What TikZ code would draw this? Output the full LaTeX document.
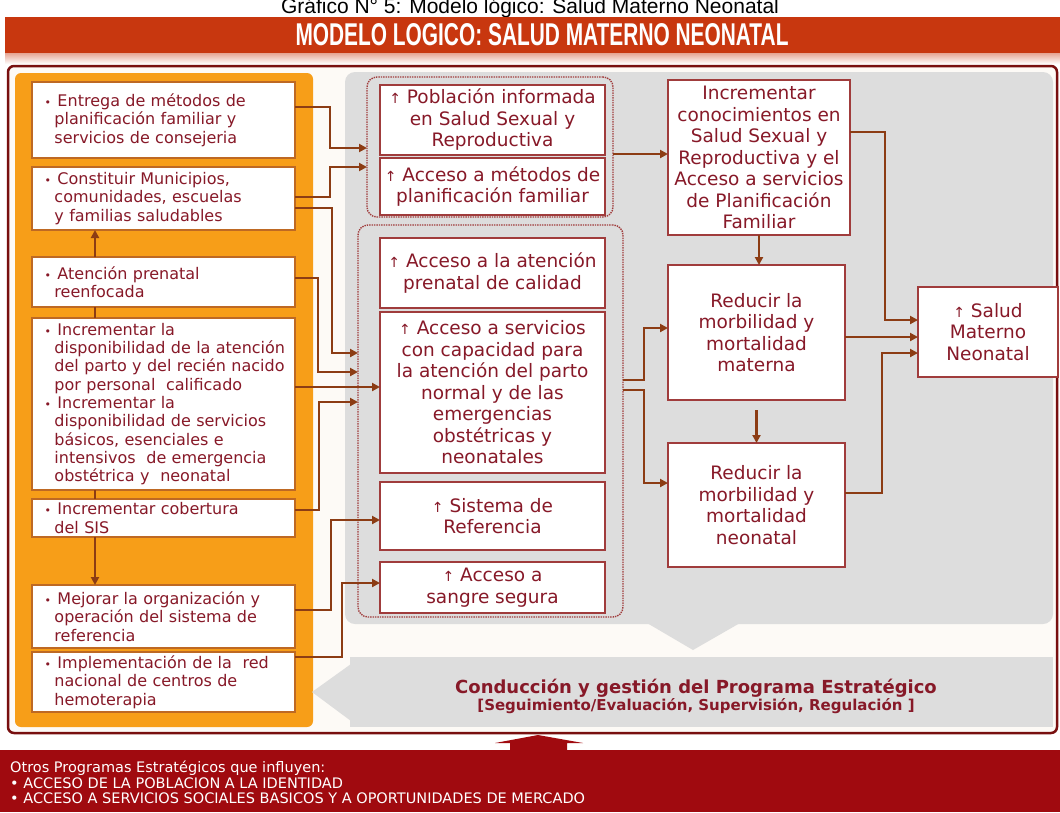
\documentclass[tikz,border=0pt]{standalone}
\usepackage{fontspec}
\usepackage{graphicx}
\setmainfont{DejaVu Sans}
\newfontfamily\arialf{Liberation Sans}
\usetikzlibrary{arrows.meta,calc}
\definecolor{banner}{RGB}{200,55,15}
\definecolor{orng}{RGB}{247,158,24}
\definecolor{lbord}{RGB}{190,105,35}
\definecolor{mbord}{RGB}{160,60,60}
\definecolor{txt}{RGB}{135,25,40}
\definecolor{conn}{RGB}{140,60,20}
\definecolor{grayA}{RGB}{221,221,221}
\definecolor{pbord}{RGB}{120,15,15}
\definecolor{dred}{RGB}{160,10,15}
\definecolor{panelbg}{RGB}{253,250,246}
\newcommand\fl[1]{\mbox{\hspace*{3pt}\makebox[13pt][l]{\fontsize{11}{11}\selectfont•}#1}}
\newcommand\cl[1]{\mbox{\hspace*{13pt}#1}}
\newcommand\ua{{\fontsize{14}{14}\selectfont↑}\ }
\newcommand\bx[7]{%
  \pgfmathsetmacro\bxcx{(#3+#5)/2}%
  \pgfmathsetmacro\bxcy{(#4+#6)/2}%
  \pgfmathsetmacro\bxw{#5-#3}%
  \pgfmathsetmacro\bxh{#6-#4}%
  \node[#2, minimum width=\bxw pt, minimum height=\bxh pt] (#1) at (\bxcx,\bxcy) {#7};}
\begin{document}
\begin{tikzpicture}[x=1pt,y=-1pt,
  lbox/.style={draw=lbord, line width=1.6pt, fill=white, text=txt, align=left,
    text width=244pt, inner xsep=9.5pt, inner ysep=0pt, outer sep=0pt,
    font=\fontsize{16}{18.3}\selectfont},
  mbox/.style={draw=mbord, line width=2.4pt, fill=white, text=txt, align=center,
    inner sep=0pt, outer sep=0pt, font=\fontsize{18.5}{21.5}\selectfont},
  rbox/.style={draw=mbord, line width=2.4pt, fill=white, text=txt, align=center,
    inner sep=0pt, outer sep=0pt, font=\fontsize{18.5}{21.5}\selectfont},
  grp/.style={draw=mbord, densely dotted, line width=1.4pt, rounded corners=10pt,
    inner sep=0pt, outer sep=0pt},
  wire/.style={draw=conn, line width=2.6pt, -{Triangle[length=8pt,width=8pt]}},
  wiren/.style={draw=conn, line width=2.6pt}]
\useasboundingbox (0,0) rectangle (1060,812);
\clip (0,0) rectangle (1060,812);
\fill[white] (0,0) rectangle (1060,812);

% title (cut at the top edge, as in the reference)
\node[font=\arialf\fontsize{21}{21}\selectfont, anchor=base, inner sep=0pt] (ttl) at (530,13)
  {Gráfico N° 5: Modelo lógico: Salud Materno Neonatal};

% banner
\fill[banner] (5,17) rectangle (1060,53);
\shade[top color=banner!45, bottom color=white] (5,53) rectangle (1060,64);
\node[text=white, inner sep=0pt, font=\arialf\bfseries] (ban) at (542,35)
  {\resizebox{493pt}{22pt}{MODELO LOGICO: SALUD MATERNO NEONATAL}};

% panel
\draw[pbord, line width=2.5pt, fill=panelbg, rounded corners=6pt] (8,66) rectangle (1057,733);
\fill[orng, rounded corners=6pt] (15,73) rectangle (313,727);
\fill[grayA, rounded corners=10pt] (345,72) rectangle (1053,624);
\fill[grayA] (647,623) -- (740,623) -- (693,650) -- cycle;
\fill[grayA] (350,657) rectangle (1053,727);
\fill[grayA] (351,664) -- (312,692) -- (351,721) -- cycle;
\node[text=txt, align=center, inner sep=0pt] (cond) at (696,696)
  {{\bfseries\fontsize{18}{20}\selectfont Conducción y gestión del Programa Estratégico}\\[0pt]
   {\bfseries\fontsize{15}{17}\selectfont [Seguimiento/Evaluación, Supervisión, Regulación ]}};

% bottom block
\fill[dred] (0,750) rectangle (1060,812);
\fill[dred] (510,751) -- (510,743) -- (495,743) -- (538,735) -- (583,743) -- (567,743) -- (567,751) -- cycle;
\node[anchor=north west, text=white, align=left, inner sep=0pt,
  font=\fontsize{14.5}{15.5}\selectfont] (otros) at (10,761)
  {Otros Programas Estratégicos que influyen:\\
   • ACCESO DE LA POBLACION A LA IDENTIDAD\\
   • ACCESO A SERVICIOS SOCIALES BASICOS Y A OPORTUNIDADES DE MERCADO};

% groups
\bx{g1}{grp}{367}{77}{613}{217}{}
\bx{g2}{grp}{358}{225}{623}{617}{}

% left boxes
\bx{b1}{lbox}{32}{82}{295}{158}{\fl{Entrega de métodos de}\\\cl{planificación familiar y}\\\cl{servicios de consejeria}}
\bx{b2}{lbox}{32}{167}{295}{230}{\fl{Constituir Municipios,}\\\cl{comunidades, escuelas}\\\cl{y familias saludables}}
\bx{b3}{lbox}{32}{257}{295}{307}{\fl{Atención prenatal}\\\cl{reenfocada}}
\bx{b4}{lbox}{32}{318}{295}{490}{\fl{Incrementar la}\\\cl{disponibilidad de la atención}\\\cl{del parto y del recién nacido}\\\cl{por personal\ \ calificado}\\\fl{Incrementar la}\\\cl{disponibilidad de servicios}\\\cl{básicos, esenciales e}\\\cl{intensivos\ \ de emergencia}\\\cl{obstétrica y\ \ neonatal}}
\bx{b5}{lbox}{32}{499}{295}{537}{\fl{Incrementar cobertura}\\\cl{del SIS}}
\bx{b6}{lbox}{32}{585}{295}{648}{\fl{Mejorar la organización y}\\\cl{operación del sistema de}\\\cl{referencia}}
\bx{b7}{lbox}{32}{652}{295}{712}{\fl{Implementación de la\ \ red}\\\cl{nacional de centros de}\\\cl{hemoterapia}}

% middle boxes
\bx{m1}{mbox}{380}{85}{605}{155}{\ua Población informada\\en Salud Sexual y\\Reproductiva}
\bx{m2}{mbox}{380}{158}{605}{215}{\ua Acceso a métodos de\\planificación familiar}
\bx{m3}{mbox}{380}{238}{605}{308}{\ua Acceso a la atención\\prenatal de calidad}
\bx{m4}{mbox}{380}{312}{605}{473}{\ua Acceso a servicios\\con capacidad para\\la atención del parto\\normal y de las\\emergencias\\obstétricas y\\neonatales}
\bx{m5}{mbox}{380}{482}{605}{550}{\ua Sistema de\\Referencia}
\bx{m6}{mbox}{380}{562}{605}{613}{\ua Acceso a\\sangre segura}

% right boxes
\bx{r1}{rbox}{668}{80}{850}{235}{Incrementar\\conocimientos en\\Salud Sexual y\\Reproductiva y el\\Acceso a servicios\\de Planificación\\Familiar}
\bx{r2}{rbox}{668}{265}{845}{400}{Reducir la\\morbilidad y\\mortalidad\\materna}
\bx{r3}{rbox}{668}{443}{845}{567}{Reducir la\\morbilidad y\\mortalidad\\neonatal}
\bx{r4}{rbox}{918}{287}{1058}{377}{\ua Salud\\Materno\\Neonatal}

% left column vertical links
\draw[wire] (b3.north -| 95,0) -- (b2.south -| 95,0);
\draw[wiren] (b3.south -| 95,0) -- (b4.north -| 95,0);
\draw[wiren] (b4.south -| 95,0) -- (b5.north -| 95,0);
\draw[wire] (b5.south -| 95,0) -- (b6.north -| 95,0);

% left to middle
\draw[wire] (b1.east |- 0,107) -- (330,107) -- (330,148) -- (g1.west |- 0,148);
\draw[wire] (b2.east |- 0,197) -- (330,197) -- (330,167) -- (g1.west |- 0,167);
\draw[wire] (b2.east |- 0,208) -- (332,208) -- (332,353) -- (g2.west |- 0,353);
\draw[wire] (b3.east |- 0,278) -- (318,278) -- (318,372) -- (g2.west |- 0,372);
\draw[wire] (b4.east |- 0,387) -- (m4.west |- 0,387);
\draw[wire] (b5.east |- 0,510) -- (319,510) -- (319,402) -- (g2.west |- 0,402);
\draw[wire] (b6.east |- 0,610) -- (331,610) -- (331,520) -- (m5.west |- 0,520);
\draw[wire] (b7.east |- 0,657) -- (342,657) -- (342,583) -- (m6.west |- 0,583);

% middle to right
\draw[wire] (g1.east |- 0,154) -- (r1.west |- 0,154);
\draw[wire] (g2.east |- 0,380) -- (644,380) -- (644,328) -- (r2.west |- 0,328);
\draw[wire] (g2.east |- 0,390) -- (644,390) -- (644,483) -- (r3.west |- 0,483);
\draw[wire] (r1.south) -- (r1.south |- r2.north);
\draw[wire] ([yshift=-10pt]r2.south) -- (r3.north);
\draw[wire] (r1.east |- 0,132) -- (885,132) -- (885,320) -- (r4.west |- 0,320);
\draw[wire] (r2.east |- 0,337) -- (r4.west |- 0,337);
\draw[wire] (r3.east |- 0,493) -- (882,493) -- (882,353) -- (r4.west |- 0,353);
\end{tikzpicture}
\end{document}
